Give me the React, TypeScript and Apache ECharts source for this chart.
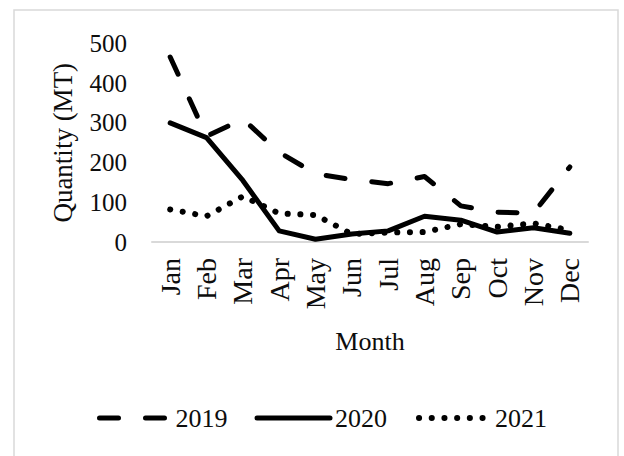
import React, { useEffect, useRef } from "react";
import * as echarts from "echarts";

const months = ["Jan", "Feb", "Mar", "Apr", "May", "Jun", "Jul", "Aug", "Sep", "Oct", "Nov", "Dec"];
const seriesNames = ["2019", "2020", "2021"];
const values2019 = [466, 266, 310, 226, 172, 157, 147, 165, 91, 75, 73, 189];
const values2020 = [300, 263, 155, 28, 7, 20, 28, 65, 55, 25, 36, 22];
const values2021 = [82, 65, 115, 72, 68, 20, 24, 25, 45, 38, 47, 30];
const yTicks = [0, 100, 200, 300, 400, 500];

const FONT = "'Liberation Serif', 'Times New Roman', serif";
const TEXT = "#0d0d0d";

export default function App() {
  const ref = useRef<HTMLDivElement>(null);
  useEffect(() => {
    document.body.style.margin = "0";
    if (!ref.current) return;
    const chart = echarts.init(ref.current, undefined, { renderer: "svg" });
    const lineBase = { color: "#000", width: 5, cap: "round" as const, join: "round" as const };
    const dashed = [19, 27];
    const dotted = [0.1, 12.6];
    chart.setOption({
      animation: false,
      backgroundColor: "#fff",
      textStyle: { fontFamily: FONT },
      graphic: [
        {
          type: "rect",
          shape: { x: 14, y: 10, width: 604, height: 470 },
          style: { fill: "none", stroke: "#d9d9d9", lineWidth: 1.5 },
          silent: true,
        },
      ],
      grid: { left: 152, right: 36, top: 43.5, bottom: 214, containLabel: false },
      xAxis: {
        type: "category",
        data: months,
        boundaryGap: true,
        axisLine: { show: true, lineStyle: { color: "#d9d9d9", width: 2 } },
        axisTick: { show: false },
        axisLabel: { rotate: 90, margin: 16, fontSize: 28, color: TEXT, fontFamily: FONT, interval: 0 },
        name: "Month",
        nameLocation: "middle",
        nameGap: 86,
        nameTextStyle: { fontSize: 26, color: TEXT, fontFamily: FONT },
      },
      yAxis: {
        type: "value",
        min: yTicks[0],
        max: yTicks[yTicks.length - 1],
        interval: 100,
        axisLine: { show: false },
        axisTick: { show: false },
        splitLine: { show: false },
        axisLabel: { margin: 25, fontSize: 25, color: TEXT, fontFamily: FONT },
        name: "Quantity (MT)",
        nameLocation: "middle",
        nameGap: 76,
        nameTextStyle: { fontSize: 27, color: TEXT, fontFamily: FONT },
      },
      legend: {
        left: 90,
        top: 400,
        itemWidth: 73,
        itemHeight: 8,
        itemGap: 27,
        itemStyle: { opacity: 0 },
        data: [
          { name: seriesNames[0], lineStyle: { color: "#000", width: 5, cap: "round", type: dashed, dashOffset: -2.5 } },
          { name: seriesNames[1], lineStyle: { color: "#000", width: 5, cap: "round", type: "solid" } },
          { name: seriesNames[2], lineStyle: { color: "#000", width: 6, cap: "round", type: dotted, dashOffset: -2 } },
        ],
        textStyle: { fontSize: 26, color: TEXT, fontFamily: FONT },
      },
      series: [
        {
          name: seriesNames[0],
          type: "line",
          data: values2019,
          symbol: "none",
          lineStyle: { ...lineBase, type: dashed },
          itemStyle: { color: "#000" },
        },
        {
          name: seriesNames[1],
          type: "line",
          data: values2020,
          symbol: "none",
          lineStyle: { ...lineBase },
          itemStyle: { color: "#000" },
        },
        {
          name: seriesNames[2],
          type: "line",
          data: values2021,
          symbol: "none",
          lineStyle: { ...lineBase, width: 6, type: dotted },
          itemStyle: { color: "#000" },
        },
      ],
    });
    return () => chart.dispose();
  }, []);
  return <div ref={ref} style={{ width: 624, height: 456 }} />;
}
